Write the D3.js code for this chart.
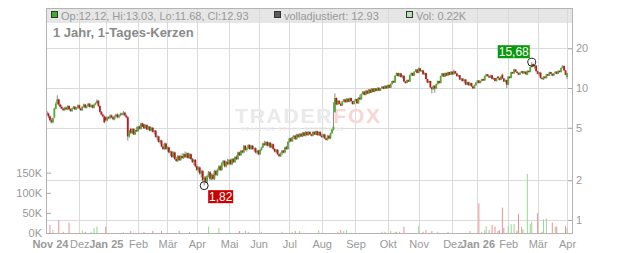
<!DOCTYPE html>
<html>
<head>
<meta charset="utf-8">
<script src="https://cdn.jsdelivr.net/npm/d3@7"></script>
<style>
  body { margin: 0; background: #fff; }
  svg { display: block; font-family: Arial, "Liberation Sans", sans-serif; }
</style>
</head>
<body>
<svg id="chart" width="632" height="253"></svg>
<script>
// month ticks (trading-day index of the first session in each month)
const monthIdx = [2, 22, 40, 62, 82, 102, 124, 144, 165, 187, 210, 232, 253, 276, 293, 314, 334, 354];
const monthLabels = ["Nov 24", "Dez", "Jan 25", "Feb", "Mär", "Apr", "Mai", "Jun", "Jul", "Aug", "Sep", "Okt", "Nov", "Dez", "Jan 26", "Feb", "Mär", "Apr"];
const yearLabels = ["Nov 24", "Jan 25", "Jan 26"];
const priceTicks = [1, 2, 5, 10, 20];
const volumeTicks = [0, 50, 100, 150];
const legendTexts = ["Op:12.12, Hi:13.03, Lo:11.68, Cl:12.93", "volladjustiert: 12.93", "Vol: 0.22K"];
const title = "1 Jahr, 1-Tages-Kerzen";

// daily candles [open, high, low, close]
const ohlc = [
  [6.5,6.7,6.2,6.4],[6.4,6.5,5.9,6.1],[6.1,6.2,5.6,5.7],[5.7,5.9,5.4,5.5],[5.5,6.0,5.4,5.9],[6.0,7.1,5.9,7.0],[7.0,7.8,6.9,7.6],[7.6,8.8,7.5,8.2],[8.2,8.3,7.3,7.5],[7.5,7.6,7.0,7.2],
  [7.2,7.4,6.9,7.0],[7.0,7.1,6.7,6.8],[6.8,7.2,6.7,7.1],[7.1,7.2,6.8,6.9],[6.9,7.4,6.8,7.3],[7.3,7.4,6.8,6.9],[6.9,7.0,6.6,6.7],[6.7,7.1,6.6,7.0],[7.0,7.3,6.9,7.2],[7.2,7.3,6.8,6.9],
  [6.9,7.2,6.8,7.1],[7.1,7.5,7.0,7.4],[7.4,7.5,6.9,7.0],[7.0,7.1,6.7,6.8],[6.8,7.3,6.7,7.2],[7.2,7.6,7.1,7.5],[7.5,7.6,7.0,7.1],[7.1,7.4,7.0,7.3],[7.3,7.7,7.2,7.6],[7.6,7.7,7.1,7.2],
  [7.2,7.5,7.1,7.4],[7.4,7.5,7.0,7.1],[7.1,7.6,7.0,7.5],[7.5,7.8,7.4,7.7],[7.7,8.2,7.6,8.0],[8.0,8.1,7.2,7.3],[7.3,7.4,6.5,6.6],[6.6,6.7,6.2,6.3],[6.3,6.4,6.0,6.1],[6.1,6.2,5.4,5.5],
  [6.0,6.1,5.6,5.7],[5.7,6.1,5.6,6.0],[6.0,6.1,5.8,5.9],[5.9,6.3,5.8,6.2],[6.2,6.3,5.9,6.0],[6.0,6.1,5.7,5.8],[5.8,6.2,5.7,6.1],[6.1,6.4,6.0,6.3],[6.3,6.4,5.9,6.0],[6.0,6.3,5.9,6.2],
  [6.2,6.5,6.1,6.4],[6.4,6.5,6.2,6.3],[6.3,6.7,6.2,6.5],[6.5,6.6,6.1,6.2],[6.2,6.3,5.9,6.0],[6.0,6.1,4.0,4.3],[4.3,4.8,4.2,4.7],[4.9,5.0,4.5,4.55],[4.55,4.95,4.5,4.9],[4.9,4.95,4.4,4.45],
  [4.45,4.85,4.4,4.8],[4.8,5.1,4.65,4.7],[4.7,5.15,4.65,5.1],[5.1,5.2,4.85,4.9],[4.9,5.45,4.85,5.4],[5.4,5.45,5.05,5.1],[5.3,5.35,4.9,4.95],[4.95,5.3,4.9,5.25],[5.25,5.3,4.8,4.85],[4.85,5.15,4.8,5.1],
  [5.1,5.15,4.7,4.75],[4.75,5.05,4.7,5.0],[5.0,5.05,4.6,4.65],[4.65,4.8,4.45,4.75],[4.75,4.8,4.2,4.25],[4.25,4.4,4.0,4.3],[4.3,4.35,3.85,3.9],[3.9,4.05,3.75,4.0],[4.0,4.05,3.55,3.6],[3.6,3.75,3.4,3.45],
  [3.45,3.85,3.4,3.8],[3.8,3.85,3.4,3.45],[3.45,3.6,3.3,3.55],[3.55,3.6,3.2,3.25],[3.25,3.35,3.05,3.3],[3.3,3.35,2.95,3.0],[3.0,3.3,2.95,3.25],[3.25,3.3,2.85,2.9],[2.9,3.0,2.75,2.8],[2.8,3.1,2.75,3.05],
  [3.05,3.1,2.8,2.85],[2.85,3.1,2.8,3.05],[3.05,3.2,2.9,2.95],[2.95,3.2,2.9,3.15],[3.15,3.3,2.95,3.0],[3.0,3.25,2.95,3.2],[3.2,3.25,2.9,2.95],[2.95,3.2,2.9,3.15],[3.15,3.2,2.85,2.9],[2.9,2.95,2.7,2.75],
  [2.75,2.9,2.6,2.85],[2.85,2.9,2.5,2.55],[2.55,2.65,2.35,2.4],[2.4,2.55,2.3,2.5],[2.5,2.55,2.2,2.25],[2.25,2.4,2.1,2.35],[2.35,2.4,1.95,2.0],[2.0,2.15,1.82,2.1],[2.1,2.15,1.9,1.95],[1.95,2.2,1.9,2.15],
  [2.15,2.35,2.1,2.3],[2.3,2.35,2.0,2.05],[2.05,2.25,2.0,2.2],[2.2,2.25,2.0,2.05],[2.05,2.4,2.0,2.35],[2.35,2.4,2.15,2.2],[2.2,2.45,2.15,2.4],[2.4,2.6,2.35,2.55],[2.55,2.6,2.35,2.4],[2.4,2.75,2.35,2.7],
  [2.7,2.85,2.6,2.8],[2.8,2.85,2.5,2.55],[2.55,2.8,2.5,2.75],[2.75,2.9,2.6,2.65],[2.65,2.9,2.6,2.85],[2.85,2.9,2.6,2.65],[2.65,2.95,2.6,2.9],[2.9,2.95,2.7,2.75],[2.75,3.05,2.7,3.0],[3.0,3.1,2.85,2.9],
  [2.9,3.3,2.85,3.25],[3.25,3.3,3.05,3.1],[3.1,3.4,3.05,3.35],[3.35,3.4,3.2,3.25],[3.25,3.7,3.2,3.65],[3.65,3.7,3.35,3.4],[3.4,3.55,3.3,3.5],[3.5,3.75,3.45,3.7],[3.7,3.75,3.4,3.45],[3.45,3.7,3.4,3.65],
  [3.65,3.7,3.4,3.45],[3.45,3.55,3.3,3.5],[3.5,3.55,3.2,3.25],[3.25,3.4,3.15,3.35],[3.35,3.4,3.1,3.15],[3.15,3.45,3.1,3.4],[3.4,3.6,3.35,3.55],[3.55,3.85,3.5,3.8],[3.8,3.98,3.65,3.7],[3.7,3.95,3.65,3.9],
  [3.9,3.95,3.6,3.65],[3.65,3.9,3.6,3.85],[3.85,3.9,3.5,3.55],[3.55,3.8,3.5,3.75],[3.75,3.8,3.4,3.45],[3.45,3.5,3.25,3.3],[3.3,3.45,3.2,3.4],[3.4,3.45,3.1,3.15],[3.15,3.2,2.98,3.05],[3.05,3.25,3.0,3.2],
  [3.2,3.4,3.1,3.35],[3.35,3.4,3.2,3.25],[3.25,3.6,3.2,3.55],[3.55,3.65,3.4,3.45],[3.45,3.95,3.4,3.9],[3.9,4.2,3.85,4.15],[4.15,4.2,3.9,3.95],[3.95,4.3,3.9,4.25],[4.25,4.4,4.1,4.35],[4.35,4.4,4.05,4.1],
  [4.1,4.5,4.05,4.45],[4.45,4.5,4.2,4.25],[4.25,4.55,4.2,4.5],[4.5,4.55,4.25,4.3],[4.3,4.65,4.25,4.6],[4.6,4.65,4.3,4.35],[4.35,4.7,4.3,4.65],[4.65,4.7,4.35,4.4],[4.4,4.7,4.35,4.65],[4.65,4.7,4.4,4.45],
  [4.45,4.5,4.3,4.35],[4.35,4.7,4.3,4.65],[4.65,4.7,4.4,4.45],[4.45,4.75,4.4,4.7],[4.7,4.75,4.35,4.4],[4.4,4.7,4.35,4.65],[4.65,4.7,4.3,4.35],[4.35,4.5,4.2,4.25],[4.25,4.5,4.2,4.45],[4.45,4.5,4.1,4.15],
  [4.15,4.2,4.0,4.05],[4.05,4.4,4.0,4.35],[4.35,4.4,4.1,4.15],[4.15,4.6,4.1,4.55],[4.55,4.9,4.5,4.85],[4.85,7.8,4.75,5.1],[6.6,9.1,6.5,8.4],[8.4,8.5,7.4,7.5],[7.5,8.1,7.45,8.0],[8.0,8.05,7.55,7.6],
  [7.6,7.7,7.3,7.35],[7.35,8.0,7.3,7.9],[7.9,8.25,7.85,8.2],[8.2,8.25,7.75,7.8],[7.8,8.35,7.75,8.3],[8.3,8.35,7.8,7.85],[7.85,8.45,7.8,8.4],[8.4,8.45,7.9,7.95],[7.95,8.0,7.5,7.55],[7.55,8.05,7.5,8.0],
  [8.0,8.3,7.9,8.25],[8.25,8.3,7.6,7.65],[7.65,8.5,7.6,8.45],[8.45,8.9,8.1,8.2],[8.2,9.1,8.15,9.0],[9.0,9.45,8.95,9.4],[9.4,9.45,8.8,8.85],[8.85,9.6,8.8,9.55],[9.55,9.6,9.0,9.05],[9.05,9.8,9.0,9.75],
  [9.75,9.8,9.15,9.2],[9.2,9.95,9.15,9.9],[9.9,9.95,9.3,9.35],[9.35,10.0,9.3,9.95],[9.95,10.0,9.45,9.5],[9.5,10.1,9.45,10.05],[10.05,10.1,9.5,9.55],[9.55,10.0,9.5,9.95],[9.95,10.3,9.9,10.25],[10.25,10.3,9.8,9.85],
  [9.85,10.45,9.8,10.4],[10.4,10.45,9.9,9.95],[9.95,10.6,9.9,10.55],[10.55,10.6,10.0,10.05],[10.05,10.8,10.0,10.75],[10.75,11.4,10.6,11.3],[11.3,11.4,10.9,11.0],[11.0,12.5,10.95,12.4],[12.4,13.1,12.3,13.0],[13.0,13.05,12.2,12.3],
  [12.3,12.95,12.2,12.9],[12.9,12.95,12.0,12.1],[12.1,12.5,11.8,12.4],[12.4,12.45,11.1,11.2],[11.2,11.3,10.8,10.9],[10.9,11.6,10.85,11.5],[11.5,11.6,11.1,11.2],[11.2,12.6,11.15,12.5],[12.5,13.1,12.4,13.0],[13.0,13.05,12.3,12.4],
  [12.4,13.4,12.35,13.3],[13.3,13.9,13.2,13.8],[13.8,13.85,12.9,13.0],[13.0,14.3,12.95,14.1],[14.1,14.15,13.3,13.4],[13.4,13.7,13.3,13.6],[13.6,13.65,12.6,12.7],[12.7,13.1,12.6,13.0],[13.0,13.05,11.6,11.7],[11.7,11.75,10.9,11.0],
  [11.0,11.4,10.9,11.3],[11.3,11.35,10.0,10.1],[10.1,10.2,9.1,9.8],[9.8,10.5,9.7,10.4],[10.4,10.45,9.2,9.9],[9.9,10.8,9.85,10.7],[10.7,11.4,10.6,11.3],[11.3,11.35,10.8,10.9],[10.9,12.4,10.85,12.3],[12.3,13.0,12.2,12.9],
  [12.9,12.95,12.1,12.2],[12.2,13.1,12.15,13.0],[13.0,13.05,12.3,12.4],[12.4,13.3,12.35,13.2],[13.2,13.25,12.5,12.6],[12.6,13.4,12.55,13.3],[13.3,13.35,12.6,12.7],[12.7,13.8,12.65,13.4],[13.4,13.45,12.8,12.9],[12.9,13.0,12.2,12.3],
  [12.3,12.6,12.1,12.5],[12.5,12.55,11.5,11.6],[11.6,11.9,11.2,11.8],[11.8,11.85,11.2,11.3],[11.3,11.7,10.9,11.6],[11.6,11.65,10.5,10.6],[10.6,11.2,10.5,11.1],[11.1,11.15,10.4,10.5],[10.5,11.0,10.4,10.9],[10.9,10.95,10.2,10.3],
  [10.3,10.4,9.8,9.95],[9.95,10.6,9.9,10.5],[10.5,11.1,10.4,11.0],[11.0,11.5,10.9,11.4],[11.4,11.45,10.8,10.9],[10.9,11.4,10.85,11.3],[11.3,11.8,11.2,11.7],[11.7,11.75,11.3,11.4],[11.4,12.4,11.35,12.3],[12.3,12.8,12.2,12.7],
  [12.7,12.75,12.2,12.3],[12.3,12.4,11.9,12.0],[12.0,12.6,11.95,12.5],[12.5,12.55,11.6,11.7],[11.7,12.0,11.5,11.9],[11.9,11.95,11.2,11.3],[11.3,12.0,11.2,11.9],[12.2,12.3,11.8,11.9],[11.9,12.0,11.4,11.5],[11.5,12.3,11.45,12.2],
  [12.6,12.8,11.7,11.8],[11.8,11.9,11.1,11.2],[11.2,11.6,11.0,11.5],[11.5,11.55,10.0,10.6],[10.6,12.3,10.5,12.2],[12.2,12.25,11.8,11.9],[11.9,13.3,11.85,13.2],[13.2,13.25,12.8,12.9],[12.9,14.0,12.85,13.8],[13.8,13.9,13.2,13.3],
  [13.3,13.4,12.9,13.0],[13.0,13.1,12.5,12.6],[12.6,13.2,12.55,13.1],[13.1,13.5,13.0,13.4],[13.4,13.45,12.8,12.9],[12.9,13.4,12.85,13.3],[13.3,13.35,12.6,12.7],[12.6,13.6,12.5,13.5],[13.5,13.55,13.1,13.2],[13.2,14.5,13.15,14.4],
  [14.4,15.68,14.3,15.2],[15.2,15.3,14.5,14.6],[14.6,14.9,14.0,14.8],[14.8,14.85,13.3,13.4],[13.4,13.5,12.7,12.8],[12.8,13.2,12.3,13.1],[13.1,13.15,11.8,11.9],[11.9,12.0,11.6,11.7],[11.6,12.3,11.5,12.2],[12.2,12.25,11.8,11.9],
  [11.9,12.8,11.8,12.7],[12.7,12.75,12.3,12.4],[12.4,13.3,12.35,13.2],[13.2,13.25,12.7,12.8],[12.8,12.9,12.3,12.4],[12.4,13.0,12.35,12.9],[12.9,13.4,12.85,13.3],[13.3,13.35,12.7,12.8],[12.8,13.6,12.75,13.5],[13.5,13.55,13.1,13.2],
  [13.2,14.3,13.15,14.2],[14.2,14.9,14.1,14.7],[14.7,14.75,13.5,13.6],[13.6,13.7,12.5,12.6],[12.12,13.03,11.68,12.93]
];

// daily volume in thousands
const volumes = [
  0,0,20,0,7.5,0,0,0,32,0,0,3,0,0,0,26,0,0,0,0,
  0,0,0,0,6,0,3,0,0,0,3,0,12,0,16,0,0,0,0,0,
  16,0,0,0,0,0,0,0,0,0,0,0,2,0,0,0,0,5,0,0,
  0,0,0,0,0,0,3,0,0,0,0,0,5,0,0,0,0,0,5,0,
  0,0,0,0,0,0,0,0,0,0,5,0,0,0,0,0,0,3,0,0,
  0,0,0,0,0,0,0,0,0,0,16,0,0,0,0,0,0,12,0,0,
  0,0,0,0,0,0,0,0,0,0,0,5,0,0,0,5,0,3,0,0,
  0,0,0,0,0,0,3,0,0,0,0,0,0,0,0,0,0,0,0,0,
  3,0,0,0,0,0,0,3,0,5,0,0,5,0,0,0,0,0,0,0,
  0,0,0,0,0,7,0,0,0,0,0,0,0,0,0,0,0,0,3,0,
  7,0,5,0,7,0,0,0,0,0,0,0,0,0,0,0,0,0,0,0,
  0,0,0,0,0,0,0,0,3,0,3,0,0,0,5,0,0,3,3,0,
  3,0,0,16,0,0,0,0,0,0,0,0,0,17,0,0,3,0,7,0,
  0,0,5,0,0,0,3,0,0,0,0,0,0,3,0,0,0,0,0,0,
  0,0,0,0,0,0,0,0,5,0,0,0,0,0,74,0,3,0,7,17,
  0,7,0,20,0,16,0,5,7,0,63,13,0,0,17,0,22,0,22,0,
  6,47,0,16,9,0,0,147,0,22,28,0,0,0,50,0,0,3,34,0,
  36,0,0,0,26,0,16,16,0,0,0,0,0,17,12
];

const svg = d3.select("#chart");
const plot = { left: 46, right: 572, top: 8, bottom: 233 };
const grey = "#999";

const x = d3.scaleLinear().domain([0, ohlc.length - 1]).range([47, 567]);
const y = d3.scaleLog().domain([1, 10]).range([220, 88]);
const yVol = d3.scaleLinear().domain([0, 150]).range([plot.bottom, 172.7]);

//=== legend band ===
svg.append("rect")
  .attr("x", plot.left).attr("y", plot.top)
  .attr("width", plot.right - plot.left).attr("height", 15)
  .attr("fill", "#e6e6e6");

//=== grid ===
const grid = svg.append("g").attr("stroke", "#dadada").attr("shape-rendering", "crispEdges");
grid.selectAll(".hgrid")
  .data(priceTicks)
  .join("line")
  .attr("x1", plot.left).attr("x2", plot.right)
  .attr("y1", (d) => Math.round(y(d)) + 0.5).attr("y2", (d) => Math.round(y(d)) + 0.5);
grid.selectAll(".vgrid")
  .data(monthIdx.filter((d) => x(d) > plot.left + 6))
  .join("line")
  .attr("x1", (d) => Math.round(x(d)) + 0.5).attr("x2", (d) => Math.round(x(d)) + 0.5)
  .attr("y1", plot.top).attr("y2", plot.bottom);

//=== watermark ===
const wm = svg.append("text")
  .attr("x", 235).attr("y", 123)
  .attr("font-size", 21).attr("font-weight", "bold")
  .attr("letter-spacing", 1.8);
wm.append("tspan").attr("fill", "#e9e9e9").text("TRADER");
wm.append("tspan").attr("fill", "#f8d6d6").text("FOX");
svg.append("text")
  .attr("x", 241).attr("y", 130.5)
  .attr("font-size", 5).attr("font-weight", "bold")
  .attr("letter-spacing", 1.2)
  .attr("fill", "#ececec")
  .text("REALTIME STOCK SCREENING");

//=== volume bars ===
const isUp = (i) => ohlc[i][3] >= ohlc[i][0];
svg.append("g")
  .selectAll("line")
  .data(volumes.map((v, i) => ({ v, i })).filter((d) => d.v > 0))
  .join("line")
  .attr("x1", (d) => x(d.i)).attr("x2", (d) => x(d.i))
  .attr("y1", yVol(0)).attr("y2", (d) => yVol(d.v))
  .attr("stroke", (d) => (isUp(d.i) ? "#98d98f" : "#ee8f98"))
  .attr("stroke-width", 1);

//=== candles ===
const candles = svg.append("g")
  .selectAll("g")
  .data(ohlc)
  .join("g");
candles.append("line")
  .attr("x1", (d, i) => x(i)).attr("x2", (d, i) => x(i))
  .attr("y1", (d) => y(Math.max(d[1], d[0], d[3])))
  .attr("y2", (d) => y(Math.min(d[2], d[0], d[3])))
  .attr("stroke", "#8c8c8c").attr("stroke-width", 1);
candles.append("rect")
  .attr("x", (d, i) => x(i) - 0.9)
  .attr("width", 1.8)
  .attr("y", (d) => y(Math.max(d[0], d[3])))
  .attr("height", (d) => Math.max(1, Math.abs(y(d[0]) - y(d[3]))))
  .attr("fill", (d) => (d[3] >= d[0] ? "#4fae2c" : "#c3161c"));

//=== border ===
svg.append("rect")
  .attr("x", plot.left + 0.5).attr("y", plot.top + 0.5)
  .attr("width", plot.right - plot.left).attr("height", plot.bottom - plot.top)
  .attr("fill", "none").attr("stroke", "#b4b4b4")
  .attr("shape-rendering", "crispEdges");

//=== axes ===
const styleAxis = (g) => {
  g.select(".domain").remove();
  g.selectAll(".tick line").attr("stroke", "#a8a8a8");
  g.selectAll("text").attr("fill", grey).attr("font-size", 11)
    .attr("font-family", "Arial, 'Liberation Sans', sans-serif");
};

svg.append("g")
  .attr("transform", `translate(${plot.right},0)`)
  .call(d3.axisRight(y).tickValues(priceTicks).tickSizeInner(-4).tickSizeOuter(0)
    .tickPadding(4).tickFormat(d3.format("d")))
  .call(styleAxis);

svg.append("g")
  .attr("transform", `translate(${plot.left},0)`)
  .call(d3.axisLeft(yVol).tickValues(volumeTicks).tickSizeInner(-5).tickSizeOuter(0)
    .tickPadding(4).tickFormat((d) => d + "K"))
  .call(styleAxis);

const xAxis = svg.append("g")
  .attr("transform", `translate(0,${plot.bottom})`)
  .call(d3.axisBottom(x).tickValues(monthIdx).tickSize(0).tickPadding(7.3)
    .tickFormat((d, i) => monthLabels[i]))
  .call(styleAxis);
xAxis.selectAll("text")
  .attr("font-weight", (d, i) => (yearLabels.includes(monthLabels[i]) ? "bold" : "normal"));

//=== legend ===
const legendX = [51, 274, 406];
const legendFill = ["#3aae2a", "#5a5a5a", "#b9e2b2"];
const legend = svg.append("g");
legend.selectAll("rect")
  .data(legendTexts)
  .join("rect")
  .attr("x", (d, i) => legendX[i] + 0.5).attr("y", 11.5)
  .attr("width", 6).attr("height", 6)
  .attr("fill", (d, i) => legendFill[i])
  .attr("stroke", "#333");
legend.selectAll("text")
  .data(legendTexts)
  .join("text")
  .attr("x", (d, i) => legendX[i] + 10).attr("y", 19.5)
  .attr("font-size", 11).attr("fill", grey)
  .text((d) => d);

svg.append("text")
  .attr("x", 53).attr("y", 37)
  .attr("font-size", 13).attr("font-weight", "bold").attr("fill", "#8a8a8a")
  .text(title);

//=== high / low markers ===
const fmt = (v) => d3.format(".2f")(v).replace(".", ",");
const hiI = d3.maxIndex(ohlc, (d) => d[1]);
const loI = d3.minIndex(ohlc, (d) => d[2]);
const marks = [
  { cx: x(hiI), cy: y(ohlc[hiI][1]), text: fmt(ohlc[hiI][1]), fill: "#0a990a", w: 32, dx: -34, dy: -17 },
  { cx: x(loI), cy: y(ohlc[loI][2]), text: fmt(ohlc[loI][2]), fill: "#cc0000", w: 25, dx: 4, dy: 4.5 },
];
const mk = svg.append("g").selectAll("g").data(marks).join("g");
mk.append("circle")
  .attr("cx", (d) => d.cx).attr("cy", (d) => d.cy).attr("r", 4)
  .attr("fill", "none").attr("stroke", "#222").attr("stroke-width", 1);
mk.append("rect")
  .attr("x", (d) => d.cx + d.dx).attr("y", (d) => d.cy + d.dy)
  .attr("width", (d) => d.w).attr("height", 13)
  .attr("fill", (d) => d.fill);
mk.append("text")
  .attr("x", (d) => d.cx + d.dx + d.w / 2).attr("y", (d) => d.cy + d.dy + 10.5)
  .attr("text-anchor", "middle").attr("font-size", 12).attr("fill", "#fff")
  .text((d) => d.text);
</script>
</body>
</html>
